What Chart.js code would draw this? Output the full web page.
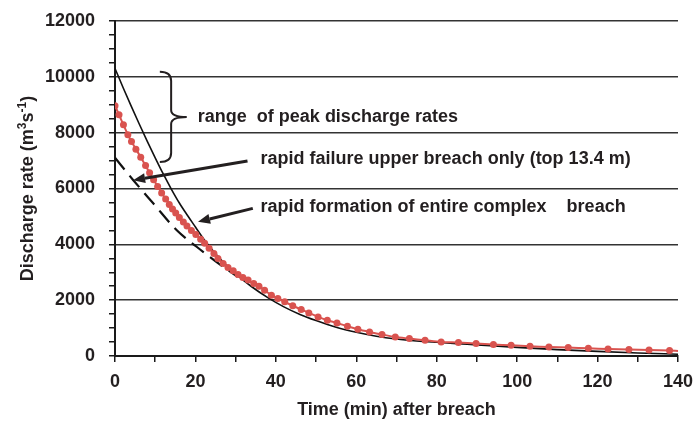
<!DOCTYPE html>
<html><head><meta charset="utf-8">
<script src="https://cdn.jsdelivr.net/npm/chart.js@4.4.1/dist/chart.umd.min.js"></script>
<style>html,body{margin:0;padding:0;background:#fff;}#wrap{width:693px;height:422px;}</style>
</head><body><div id="wrap"><canvas id="c" width="693" height="422"></canvas></div>
<script>
// ---- data ----
const xLabelValues = [0, 20, 40, 60, 80, 100, 120, 140];
const yLabelValues = [0, 2000, 4000, 6000, 8000, 10000, 12000];

const redTime = [0, 1.0, 2.1, 3.2, 4.1, 5.2, 6.4, 7.6, 8.6, 9.6, 10.6, 11.6, 12.6, 13.5, 14.3, 15.1, 16.0, 17.0, 17.9, 19.0, 20.1, 21.3, 22.3, 23.4, 24.6, 25.6, 26.9, 28.1, 29.4, 30.6, 31.8, 33.1, 34.5, 35.8, 37.2, 38.9, 40.5, 42.2, 44.2, 46.3, 48.2, 50.5, 52.8, 55.2, 57.8, 60.4, 63.3, 66.4, 69.7, 73.2, 77.1, 81.1, 85.4, 89.8, 94.1, 98.5, 103.2, 107.9, 112.7, 117.7, 122.6, 127.8, 132.8, 137.9, 140];
const redRate = [8964, 8641, 8282, 7923, 7683, 7410, 7123, 6821, 6560, 6310, 6070, 5840, 5620, 5430, 5270, 5120, 4960, 4800, 4660, 4500, 4350, 4179, 4035, 3856, 3676, 3497, 3317, 3174, 3052, 2922, 2815, 2718, 2599, 2502, 2359, 2179, 2061, 1939, 1800, 1666, 1544, 1400, 1282, 1185, 1066, 959, 862, 768, 682, 625, 564, 503, 481, 445, 409, 384, 348, 323, 302, 276, 251, 230, 215, 194, 180];

const solidTime = [0, 2, 4, 6, 8, 10, 12, 14, 16, 18, 20, 22, 24, 27, 30, 34, 38, 42, 46, 50, 55, 60, 65, 70, 75, 80, 85, 90, 100, 110, 120, 130, 140];
const solidRate = [10300, 9620, 8960, 8320, 7700, 7100, 6520, 5980, 5480, 5040, 4620, 4200, 3830, 3350, 2940, 2480, 2090, 1760, 1490, 1270, 1030, 850, 710, 610, 540, 490, 445, 400, 310, 230, 165, 110, 65];

const dashTime = [0, 4.5, 9.5, 15.3, 20.3, 25.2, 30.5];
const dashRate = [7100, 6307, 5470, 4512, 3913, 3375, 2836];

const yTitleParts = ['Discharge rate (m', '3', 's', '-1', ')'];
const xTitle = 'Time (min) after breach';
const notes = [
  {text: 'range  of peak discharge rates', t: 20.6, v: 8565},
  {text: 'rapid failure upper breach only (top 13.4 m)', t: 36.2, v: 7057},
  {text: 'rapid formation of entire complex    breach', t: 36.2, v: 5334}
];
const arrows = [
  {from: [32.95, 6985], to: [4.5, 6300]},
  {from: [34.27, 5287], to: [20.64, 4806]}
];
const brace = {tLeft: 11.15, tRight: 17.84, vTop: 10179, vMid: 8564, vBottom: 6949};

// ---- styles ----
const FONT = '"Liberation Sans", Arial, Helvetica, sans-serif';
const TXT = '#231f20';
const RED = '#d9534f';

const pts = (ts, vs) => ts.map((t, i) => ({x: t, y: vs[i]}));

const annotPlugin = {
  id: 'annot',
  afterDraw(chart) {
    const {ctx, chartArea: a, scales: {x, y}} = chart;
    ctx.save();
    ctx.fillStyle = TXT; ctx.strokeStyle = TXT;
    // brace
    const bx0 = x.getPixelForValue(brace.tLeft), bx1 = x.getPixelForValue(brace.tRight);
    const byT = y.getPixelForValue(brace.vTop), byM = y.getPixelForValue(brace.vMid), byB = y.getPixelForValue(brace.vBottom);
    const bxm = bx0 + (bx1 - bx0) * 0.42;
    ctx.lineWidth = 2;
    ctx.beginPath();
    ctx.moveTo(bx0, byT);
    ctx.quadraticCurveTo(bxm, byT, bxm, byT + 9);
    ctx.lineTo(bxm, byM - 7);
    ctx.quadraticCurveTo(bxm, byM, bx1, byM);
    ctx.quadraticCurveTo(bxm, byM, bxm, byM + 7);
    ctx.lineTo(bxm, byB - 9);
    ctx.quadraticCurveTo(bxm, byB, bx0, byB);
    ctx.stroke();
    // arrows
    arrows.forEach(ar => {
      const x1 = x.getPixelForValue(ar.from[0]), y1 = y.getPixelForValue(ar.from[1]);
      const x2 = x.getPixelForValue(ar.to[0]), y2 = y.getPixelForValue(ar.to[1]);
      const ang = Math.atan2(y2 - y1, x2 - x1);
      const hl = 12, hw = 5;
      const bxp = x2 - hl * Math.cos(ang), byp = y2 - hl * Math.sin(ang);
      ctx.lineWidth = 3;
      ctx.beginPath(); ctx.moveTo(x1, y1); ctx.lineTo(bxp, byp); ctx.stroke();
      ctx.beginPath();
      ctx.moveTo(x2, y2);
      ctx.lineTo(bxp + hw * Math.sin(ang), byp - hw * Math.cos(ang));
      ctx.lineTo(bxp - hw * Math.sin(ang), byp + hw * Math.cos(ang));
      ctx.closePath(); ctx.fill();
    });
    // notes
    ctx.font = 'bold 18px ' + FONT;
    ctx.textAlign = 'left'; ctx.textBaseline = 'middle';
    notes.forEach(n => ctx.fillText(n.text, x.getPixelForValue(n.t), y.getPixelForValue(n.v)));
    // x title
    ctx.textAlign = 'center';
    ctx.fillText(xTitle, (a.left + a.right) / 2, 410);
    // y title with superscripts
    const big = 'bold 18px ' + FONT, small = 'bold 12px ' + FONT;
    const spec = [[yTitleParts[0], big, 0], [yTitleParts[1], small, -7], [yTitleParts[2], big, 0], [yTitleParts[3], small, -7], [yTitleParts[4], big, 0]];
    let total = 0;
    spec.forEach(s => { ctx.font = s[1]; total += ctx.measureText(s[0]).width; });
    ctx.translate(33, (a.top + a.bottom) / 2);
    ctx.rotate(-Math.PI / 2);
    ctx.textAlign = 'left'; ctx.textBaseline = 'alphabetic';
    let cx = -total / 2;
    spec.forEach(s => { ctx.font = s[1]; ctx.fillText(s[0], cx, s[2]); cx += ctx.measureText(s[0]).width; });
    ctx.restore();
  }
};

new Chart(document.getElementById('c'), {
  type: 'line',
  data: {
    datasets: [
      {
        label: 'model', data: pts(redTime, redRate), order: 0,
        borderColor: RED, backgroundColor: RED, borderWidth: 2,
        pointRadius: ctx => ctx.dataIndex === redTime.length - 1 ? 0 : 3.5,
        pointBackgroundColor: RED, pointBorderWidth: 0, tension: 0.3
      },
      {
        label: 'rapid formation', data: pts(solidTime, solidRate), order: 1,
        borderColor: '#111', borderWidth: 1.6, pointRadius: 0,
        cubicInterpolationMode: 'monotone'
      },
      {
        label: 'upper breach', data: pts(dashTime, dashRate), order: 2,
        borderColor: '#111', borderWidth: 2.2, borderDash: [15, 8], pointRadius: 0,
        cubicInterpolationMode: 'monotone'
      }
    ]
  },
  options: {
    responsive: false, animation: false, devicePixelRatio: 1,
    layout: {padding: {top: 21, right: 15, bottom: 0, left: 0}},
    plugins: {legend: {display: false}, tooltip: {enabled: false}},
    scales: {
      x: {
        type: 'linear', min: 0, max: 140,
        border: {color: '#1a1a1a', width: 2},
        grid: {drawOnChartArea: false, drawTicks: true, tickLength: 6, tickColor: '#1a1a1a', lineWidth: 1.5},
        ticks: {
          stepSize: 10, autoSkip: false, maxTicksLimit: 100, maxRotation: 0, padding: 9,
          color: TXT, font: {family: FONT, size: 18, weight: 'bold'},
          callback: v => xLabelValues.includes(v) ? String(v) : ''
        },
        afterFit: s => { s.height = 66; s.paddingRight = 0; s.paddingLeft = 0; }
      },
      y: {
        type: 'linear', min: 0, max: 12000,
        border: {color: '#1a1a1a', width: 2},
        grid: {
          drawTicks: true, tickLength: 6, tickColor: '#1a1a1a', lineWidth: 1.5,
          color: ctx => (ctx.tick && ctx.tick.value % 2000 === 0 && ctx.tick.value !== 0) ? '#333' : 'rgba(0,0,0,0)'
        },
        ticks: {
          stepSize: 500, autoSkip: false, maxTicksLimit: 100, padding: 14,
          color: TXT, font: {family: FONT, size: 18, weight: 'bold'},
          callback: v => yLabelValues.includes(v) ? String(v) : ''
        },
        afterFit: s => { s.width = 115; s.paddingTop = 0; s.paddingBottom = 0; }
      }
    }
  },
  plugins: [annotPlugin]
});
</script>
</body></html>
